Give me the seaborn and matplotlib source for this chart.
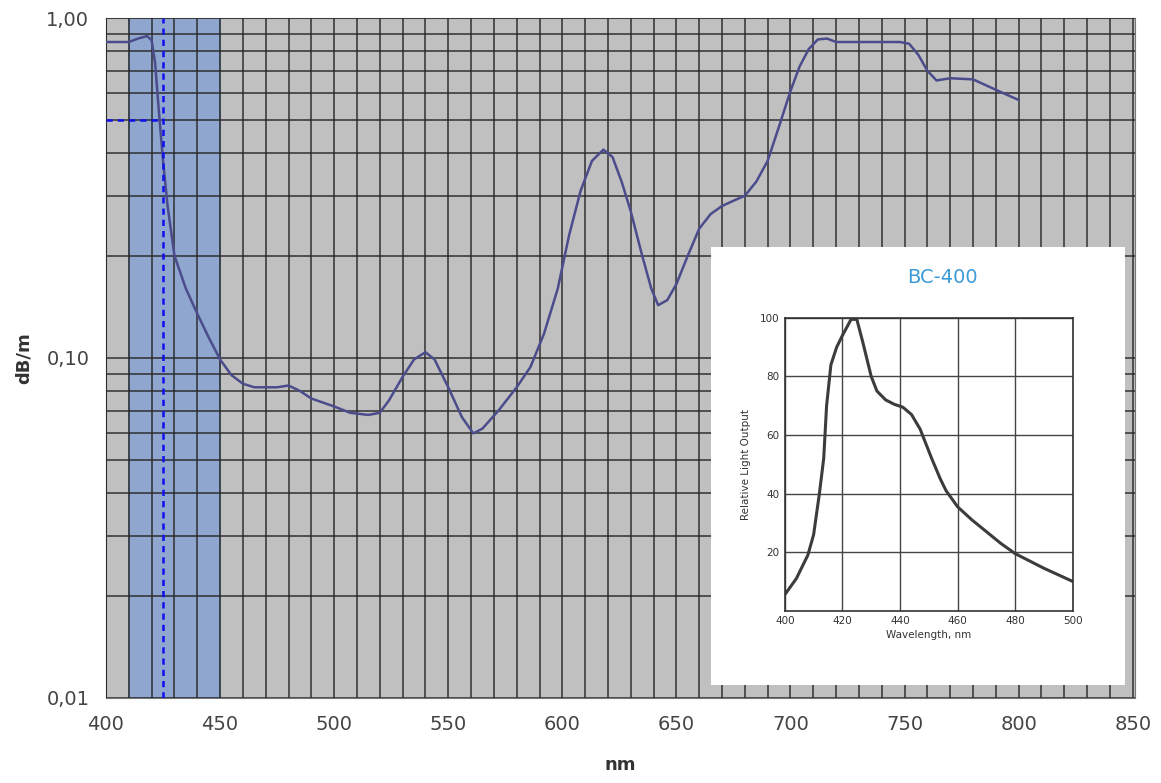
import numpy as np
import pandas as pd
import matplotlib.pyplot as plt
import matplotlib.ticker as mticker
import seaborn as sns

# attenuation curve of the fibre (dB/m)
wavelength_nm = [400, 410, 414, 418, 420, 421.5, 423, 425, 427, 430, 435, 440, 445, 450,
                 455, 460, 465, 470, 475, 480, 485, 490, 500, 507, 515, 520, 524, 530,
                 535, 540, 544, 550, 556, 561, 565, 572, 580, 586, 592, 598, 603, 608,
                 613, 618, 622, 626, 630, 635, 639, 642, 646, 650, 655, 660, 665, 670,
                 675, 680, 685, 690, 695, 700, 704, 708, 712, 716, 720, 735, 748, 752,
                 756, 760, 764, 770, 780, 790, 800]
attenuation = [0.85, 0.85, 0.87, 0.885, 0.86, 0.74, 0.55, 0.38, 0.28, 0.20, 0.16, 0.135,
               0.115, 0.099, 0.089, 0.084, 0.082, 0.082, 0.082, 0.083, 0.080, 0.076,
               0.072, 0.069, 0.068, 0.069, 0.075, 0.088, 0.099, 0.104, 0.099, 0.082,
               0.067, 0.060, 0.062, 0.070, 0.082, 0.094, 0.118, 0.16, 0.23, 0.31, 0.38,
               0.41, 0.39, 0.33, 0.27, 0.20, 0.16, 0.143, 0.148, 0.165, 0.20, 0.24, 0.265,
               0.28, 0.29, 0.30, 0.33, 0.38, 0.48, 0.61, 0.72, 0.81, 0.865, 0.87, 0.85,
               0.85, 0.85, 0.84, 0.78, 0.70, 0.655, 0.665, 0.66, 0.615, 0.574]

# BC-400 emission spectrum (inset)
bc400_nm = [400, 404, 408, 410, 412, 413.5, 414.5, 416, 418, 420, 423, 425, 427, 428.5,
            430, 432, 435, 438, 441, 444, 447, 451, 454, 456, 460, 465, 470, 475, 480,
            490, 500]
bc400_output = [5.5, 11, 19, 26, 40, 52, 70, 84, 90, 94, 99.5, 99.5, 92, 86, 80, 75, 72,
                70.5, 69.5, 67, 62, 52, 45, 41, 35.5, 31, 27, 23, 19.5, 14.5, 10]

band_nm = (410, 450)
cutoff_nm = 425
cutoff_db = 0.5

df = pd.DataFrame({'nm': wavelength_nm, 'db': attenuation})
df_bc = pd.DataFrame({'nm': bc400_nm, 'out': bc400_output})

sns.set_style('white')
plt.rcParams['font.family'] = ['DejaVu Sans']

fig = plt.figure(figsize=(11.61, 7.83), dpi=100)
ax = fig.add_axes([0.0913, 0.1086, 0.8863, 0.8684])
ax.set_facecolor('#c0c0c0')

ax.axvspan(*band_nm, facecolor='#6f95d8', alpha=0.6, edgecolor='#3a66b8', lw=1.2, zorder=1)

sns.lineplot(data=df, x='nm', y='db', ax=ax, color='#4b4c8c', lw=1.8, zorder=4)

ax.set_yscale('log')
ax.set_xlim(400, 851)
ax.set_ylim(0.01, 1.0)
ax.xaxis.set_major_locator(mticker.MultipleLocator(50))
ax.xaxis.set_minor_locator(mticker.MultipleLocator(10))
ax.yaxis.set_major_locator(mticker.LogLocator(base=10))
ax.yaxis.set_minor_locator(mticker.LogLocator(base=10, subs=np.arange(2, 10)))
ax.yaxis.set_major_formatter(mticker.FuncFormatter(lambda v, p: f'{v:.2f}'.replace('.', ',')))
ax.yaxis.set_minor_formatter(mticker.NullFormatter())
ax.grid(which='both', color='#2a2a2a', lw=1.4, alpha=0.75, zorder=2)
ax.set_axisbelow(False)
ax.tick_params(which='major', direction='out', length=6, color='#333333',
               labelsize=14, labelcolor='#444444', pad=6)
ax.tick_params(which='minor', length=0)
for s in ax.spines.values():
    s.set_color('#777777')
ax.spines['left'].set_color('#333333')

ax.plot([cutoff_nm, cutoff_nm], [0.01, 1.0], color='#1010ee', ls=(0, (2.5, 2)), lw=1.8, zorder=5)
ax.plot([400, cutoff_nm], [cutoff_db, cutoff_db], color='#1010ee', ls=(0, (2.5, 2)), lw=1.8, zorder=5)

ax.set_xlabel('nm', fontsize=13, fontweight='bold', color='#333333', labelpad=16)
ax.set_ylabel('dB/m', fontsize=13, fontweight='bold', color='#333333', labelpad=10)

# inset with the scintillator spectrum
fig.patches.append(plt.Rectangle((0.612, 0.125), 0.357, 0.559, transform=fig.transFigure,
                                 facecolor='white', edgecolor='none', zorder=10))
fig.text(0.812, 0.646, 'BC-400', fontsize=14, color='#3c9ad8', ha='center', va='center',
         zorder=12)

ins = fig.add_axes([0.676, 0.220, 0.248, 0.374], zorder=11)
ins.set_facecolor('white')
sns.lineplot(data=df_bc, x='nm', y='out', ax=ins, color='#3c3c3c', lw=2.2)
ins.set_xlim(400, 500)
ins.set_ylim(0, 100)
ins.set_xticks(range(400, 501, 20))
ins.set_yticks(range(20, 101, 20))
ins.grid(True, color='#444444', lw=1.0)
ins.tick_params(labelsize=7.5, labelcolor='#333333', length=0, pad=4)
for s in ins.spines.values():
    s.set_color('#333333')
    s.set_linewidth(1.2)
ins.set_xlabel('Wavelength, nm', fontsize=7.5, color='#333333', labelpad=3)
ins.set_ylabel('Relative Light Output', fontsize=7.5, color='#333333', labelpad=6)

fig.savefig('out.png', dpi=100)
